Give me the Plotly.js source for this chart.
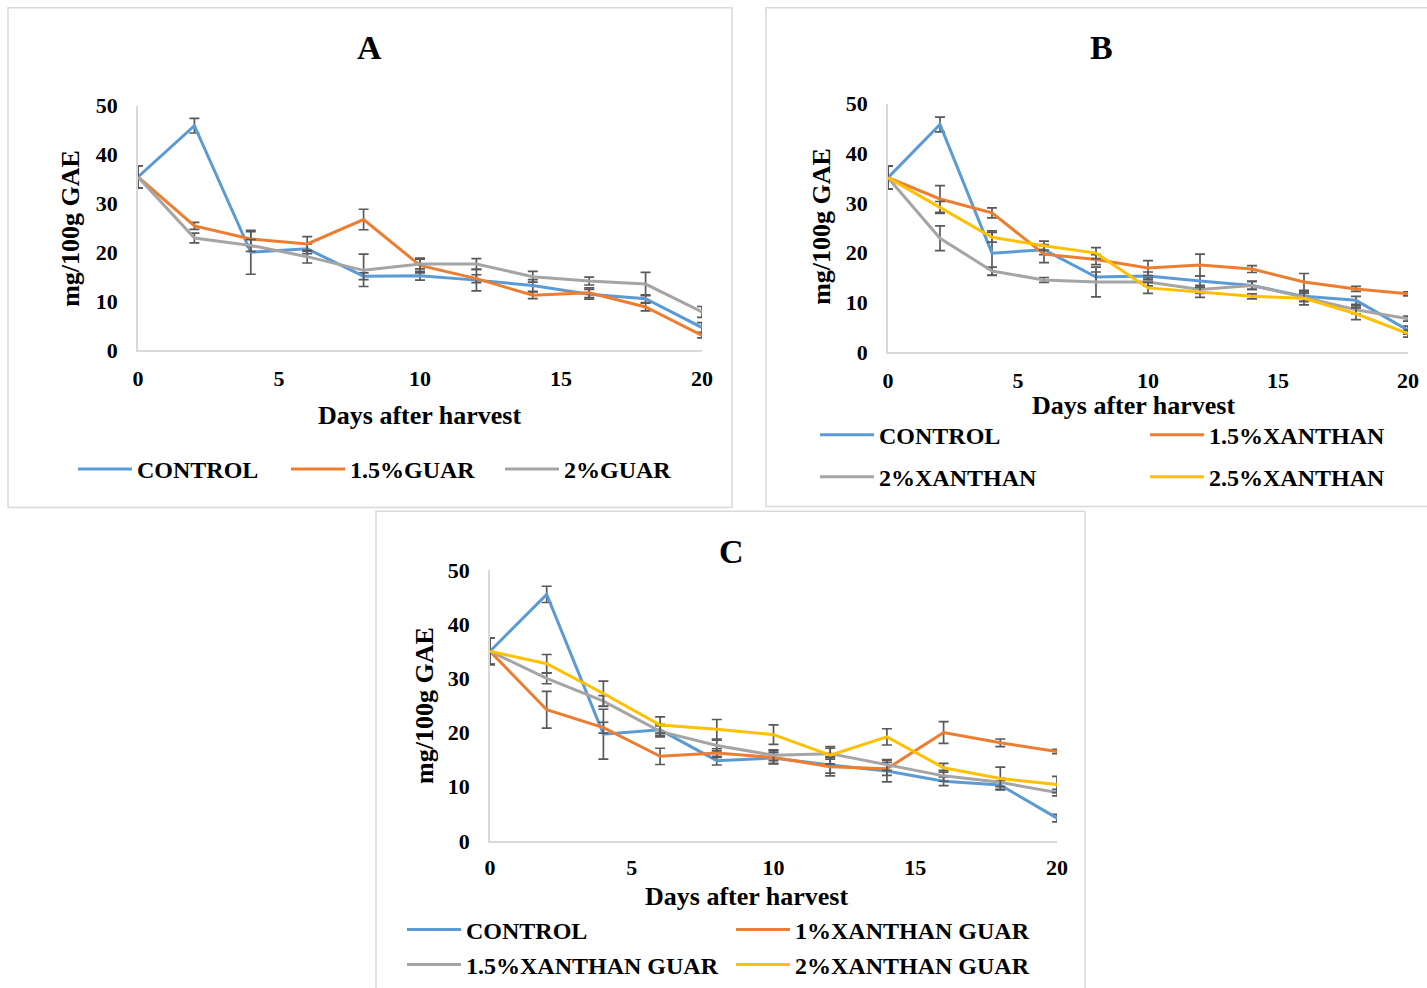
<!DOCTYPE html>
<html>
<head>
<meta charset="utf-8">
<script src="https://cdn.plot.ly/plotly-3.0.1.min.js"></script>
<style>html,body{margin:0;padding:0;background:#fff;}#chart{width:1427px;height:988px;}</style>
</head>
<body>
<div id="chart"></div>
<script>
// ---- data ----
const days = [0, 2, 4, 6, 8, 10, 12, 14, 16, 18, 20];

// Panel A
const aNames = ['CONTROL', '1.5%GUAR', '2%GUAR'];
const aControl = [35.4, 45.9, 20.0, 20.7, 15.1, 15.2, 14.3, 13.2, 11.4, 10.5, 4.6];
const aGuar15  = [35.4, 25.4, 22.7, 21.7, 26.7, 17.3, 14.6, 11.2, 11.7, 8.8, 3.0];
const aGuar2   = [35.4, 22.9, 21.4, 19.1, 16.3, 17.6, 17.6, 15.0, 14.1, 13.5, 7.8];
const aControlErr = [2.3, 1.5, 4.5, 1.0, 0.7, 0.9, 2.2, 1.2, 1.0, 0.8, 1.0];
const aGuar15Err  = [2.3, 0.7, 1.5, 1.5, 2.1, 1.5, 0.8, 0.7, 1.0, 0.8, 0.5];
const aGuar2Err   = [2.3, 1.0, 1.2, 1.3, 3.3, 1.0, 1.1, 1.1, 0.8, 2.4, 1.1];

// Panel B
const bNames = ['CONTROL', '1.5%XANTHAN', '2%XANTHAN', '2.5%XANTHAN'];
const bControl = [35.1, 45.8, 19.9, 20.6, 15.1, 15.3, 14.3, 13.4, 11.2, 10.4, 4.4];
const bXan15   = [35.1, 30.8, 28.0, 19.7, 18.6, 16.9, 17.5, 16.7, 14.1, 12.7, 11.7];
const bXan2    = [35.1, 22.9, 16.3, 14.5, 14.1, 14.1, 12.6, 13.4, 11.0, 8.5, 6.7];
const bXan25   = [35.1, 29.1, 23.1, 21.4, 19.9, 12.9, 12.0, 11.2, 10.8, 7.7, 3.7];
const bControlErr = [2.3, 1.5, 4.5, 1.0, 1.0, 0.8, 1.0, 0.8, 1.0, 0.8, 0.8];
const bXan15Err   = [2.3, 2.7, 1.0, 1.7, 1.0, 1.5, 2.2, 0.7, 1.7, 0.5, 0.4];
const bXan2Err    = [2.3, 2.5, 0.8, 0.5, 3.0, 0.8, 0.8, 0.8, 0.8, 0.8, 0.5];
const bXan25Err   = [2.3, 1.2, 1.0, 0.9, 1.1, 1.1, 1.0, 0.5, 1.3, 1.2, 0.7];

// Panel C
const cNames = ['CONTROL', '1%XANTHAN GUAR', '1.5%XANTHAN GUAR', '2%XANTHAN GUAR'];
const cControl = [35.0, 45.5, 19.7, 20.5, 14.8, 15.3, 14.0, 12.9, 11.0, 10.3, 4.2];
const cXG1     = [35.0, 24.2, 20.9, 15.6, 16.2, 15.4, 13.7, 13.3, 20.0, 18.1, 16.5];
const cXG15    = [35.0, 30.0, 25.8, 20.2, 17.6, 15.8, 16.1, 14.0, 12.0, 10.8, 8.9];
const cXG2     = [35.0, 32.7, 27.2, 21.4, 20.6, 19.6, 15.8, 19.2, 13.5, 11.5, 10.4];
const cControlErr = [2.5, 1.5, 4.6, 1.0, 0.8, 1.0, 1.5, 2.0, 0.8, 0.8, 0.7];
const cXG1Err     = [2.4, 3.4, 1.0, 1.5, 0.8, 1.2, 1.7, 1.2, 2.0, 0.7, 0.4];
const cXG15Err    = [2.4, 1.0, 1.0, 1.0, 1.0, 1.0, 1.0, 1.0, 1.0, 0.8, 0.6];
const cXG2Err     = [2.4, 1.7, 2.3, 1.5, 1.8, 1.8, 1.6, 1.5, 0.8, 2.1, 1.5];

const xTicks = [0, 5, 10, 15, 20];
const yTicks = [0, 10, 20, 30, 40, 50];
const xTitle = 'Days after harvest';
const yTitle = 'mg/100g GAE';
const panelTitles = ['A', 'B', 'C'];

// ---- styles ----
const W = 1427, H = 988;
const px = v => v / W;
const py = v => 1 - v / H;
const COLORS = ['#5B9BD5', '#ED7D31', '#A5A5A5', '#FFC000'];
const FONT = 'Liberation Serif, Times New Roman, serif';

function mk(name, y, err, color, ax, legendId) {
  return {
    type: 'scatter', mode: 'lines', name: name,
    x: days, y: y,
    xaxis: 'x' + ax, yaxis: 'y' + ax,
    line: {color: color, width: 3},
    error_y: {type: 'data', array: err, visible: true, color: '#595959', thickness: 1.7, width: 5},
    cliponaxis: false,
    legend: legendId,
    hoverinfo: 'x+y+name'
  };
}

const traces = [
  mk(aNames[0], aControl, aControlErr, COLORS[0], '', 'legend'),
  mk(aNames[1], aGuar15, aGuar15Err, COLORS[1], '', 'legend2'),
  mk(aNames[2], aGuar2, aGuar2Err, COLORS[2], '', 'legend3'),
  mk(bNames[0], bControl, bControlErr, COLORS[0], '2', 'legend4'),
  mk(bNames[1], bXan15, bXan15Err, COLORS[1], '2', 'legend5'),
  mk(bNames[2], bXan2, bXan2Err, COLORS[2], '2', 'legend6'),
  mk(bNames[3], bXan25, bXan25Err, COLORS[3], '2', 'legend7'),
  mk(cNames[0], cControl, cControlErr, COLORS[0], '3', 'legend8'),
  mk(cNames[1], cXG1, cXG1Err, COLORS[1], '3', 'legend9'),
  mk(cNames[2], cXG15, cXG15Err, COLORS[2], '3', 'legend10'),
  mk(cNames[3], cXG2, cXG2Err, COLORS[3], '3', 'legend11')
];

function xa(x0, x1, standoff) {
  return {
    domain: [px(x0), px(x1)], range: [0, 20], tickvals: xTicks,
    showline: true, linecolor: '#d9d9d9', linewidth: 1.5,
    showgrid: false, zeroline: false, ticks: '',
    ticklabelstandoff: standoff,
    tickfont: {family: FONT, size: 22, color: '#000', weight: 'bold'},
    fixedrange: true
  };
}
function ya(y0, y1) {
  return {
    domain: [py(y0), py(y1)], range: [0, 50], tickvals: yTicks,
    showline: true, linecolor: '#d9d9d9', linewidth: 1.5,
    showgrid: false, zeroline: false, ticks: '',
    ticklabelstandoff: 14,
    tickfont: {family: FONT, size: 22, color: '#000', weight: 'bold'},
    fixedrange: true
  };
}

function ann(text, x, y, size, angle) {
  return {
    text: text, xref: 'paper', yref: 'paper', x: px(x), y: py(y),
    xanchor: 'center', yanchor: 'middle', showarrow: false,
    textangle: angle || 0,
    font: {family: FONT, size: size, color: '#000', weight: 'bold'}
  };
}

function leg(lineStart, yc) {
  return {
    x: px(lineStart - 5), y: py(yc), xanchor: 'left', yanchor: 'middle',
    orientation: 'h', itemwidth: 54, bgcolor: 'rgba(0,0,0,0)', borderwidth: 0,
    font: {family: FONT, size: 24, color: '#000', weight: 'bold'},
    itemclick: false, itemdoubleclick: false
  };
}

function box(x0, y0, x1, y1) {
  return {type: 'rect', xref: 'paper', yref: 'paper',
    x0: px(x0), x1: px(x1), y0: py(y1), y1: py(y0),
    line: {color: '#d9d9d9', width: 1.5}, fillcolor: 'rgba(0,0,0,0)', layer: 'below'};
}

const layout = {
  width: W, height: H,
  margin: {l: 0, r: 0, t: 0, b: 0},
  paper_bgcolor: '#fff', plot_bgcolor: 'rgba(0,0,0,0)',
  showlegend: true,
  xaxis: Object.assign(xa(138, 702, 8), {anchor: 'y'}),
  yaxis: Object.assign(ya(358, 108), {anchor: 'x'}),
  xaxis2: Object.assign(xa(888, 1408, 8), {anchor: 'y2'}),
  yaxis2: Object.assign(ya(360, 106), {anchor: 'x2'}),
  xaxis3: Object.assign(xa(490, 1057, 6), {anchor: 'y3'}),
  yaxis3: Object.assign(ya(860, 583), {anchor: 'x3'}),
  legend: leg(78, 480),
  legend2: leg(291, 480),
  legend3: leg(505, 480),
  legend4: leg(820, 445),
  legend5: leg(1150, 445),
  legend6: leg(820, 488),
  legend7: leg(1150, 488),
  legend8: leg(407, 951),
  legend9: leg(736, 951),
  legend10: leg(407, 987),
  legend11: leg(736, 987),
  shapes: [
    box(8, 8, 732, 519),
    box(766, 8, 1450, 518),
    box(376, 523, 1085, 1030)
  ],
  annotations: [
    ann(panelTitles[0], 370, 49, 34),
    ann(panelTitles[1], 1101, 49, 34),
    ann(panelTitles[2], 731, 564, 34),
    ann(xTitle, 419, 425, 26),
    ann(xTitle, 1133, 415, 26),
    ann(xTitle, 747, 917, 26),
    ann(yTitle, 71, 234, 26, -90),
    ann(yTitle, 822, 232, 26, -90),
    ann(yTitle, 425, 722, 26, -90)
  ]
};

Plotly.newPlot('chart', traces, layout, {displayModeBar: false});
</script>
</body>
</html>
